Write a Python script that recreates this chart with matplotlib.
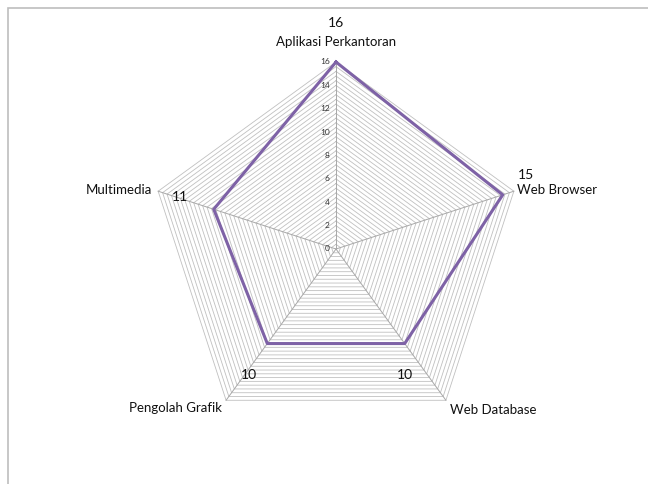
import numpy as np
import matplotlib
matplotlib.use("Agg")
import matplotlib.pyplot as plt
from matplotlib.patches import Rectangle

categories = ["Aplikasi Perkantoran", "Web Browser", "Web Database", "Pengolah Grafik", "Multimedia"]
values = [16, 15, 10, 10, 11]
tick_values = [0, 2, 4, 6, 8, 10, 12, 14, 16]
r_max = 16
minor_step = 0.4

plt.rcParams['font.family'] = ['Lato', 'DejaVu Sans']

W, H = 648, 484
cx, cy = 336, 249           # centre in pixels (from top-left)
scale = 187 / r_max         # pixels per unit

fig = plt.figure(figsize=(W / 100, H / 100), dpi=100)
ax = fig.add_axes([0, 0, 1, 1])
ax.set_xlim(-cx / scale, (W - cx) / scale)
ax.set_ylim(-(H - cy) / scale, cy / scale)
ax.axis('off')

# outer chart border (cut at right and bottom edges)
fig.patches.append(Rectangle((8 / W, -0.1), 1.2, 1.1 - 8 / H, transform=fig.transFigure,
                             fill=False, edgecolor='#BDBDBD', linewidth=1.2))

n = len(categories)
ang = np.pi / 2 - np.arange(n) * 2 * np.pi / n
ang_closed = np.append(ang, ang[0])

# grid polygons
for r in np.arange(minor_step, r_max + 1e-9, minor_step):
    ax.plot(r * np.cos(ang_closed), r * np.sin(ang_closed), color='#C0C0C0', lw=0.6, zorder=1)
# spokes
for a in ang:
    ax.plot([0, r_max * np.cos(a)], [0, r_max * np.sin(a)], color='#A8A8A8', lw=0.7, zorder=1)

# radial tick labels
for t in tick_values:
    ax.text(-0.55, t, str(t), ha='right', va='center', fontsize=6, color='#333333')

# data series
vals = np.append(values, values[0])
ax.plot(vals * np.cos(ang_closed), vals * np.sin(ang_closed), color='#7E62A6', lw=2.2, zorder=3)

# category labels
cat_pos = [(0, 42, 'center'), (517, 190, 'left'), (450, 410, 'left'),
           (222, 408, 'right'), (152, 190, 'right')]
for name, (px, py, ha) in zip(categories, cat_pos):
    x = (px - cx) / scale if px else 0
    ax.text(x, (cy - py) / scale, name, ha=ha, va='center', fontsize=9.5, color='#111111')

# data labels
offsets = [(0, 28), (17, 14.5), (0, -23), (-13, -23), (-24, 9)]
for v, a, off in zip(values, ang, offsets):
    ax.annotate(str(v), (v * np.cos(a), v * np.sin(a)), xytext=off, textcoords='offset points',
                ha='center', va='center', fontsize=10, color='#111111', zorder=4)

fig.savefig('out.png', dpi=100)
